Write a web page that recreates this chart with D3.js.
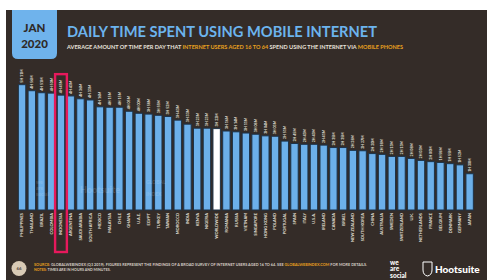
<!DOCTYPE html>
<html>
<head>
<meta charset="utf-8">
<script src="https://cdnjs.cloudflare.com/ajax/libs/d3/7.8.5/d3.min.js"></script>
<style>
  html, body { margin: 0; padding: 0; background: #fff; }
  svg { display: block; font-family: Lato, "Open Sans", sans-serif; }
</style>
</head>
<body>
<svg id="chart" width="487" height="280"></svg>
<script>
"use strict";

// countries, ordered as on the slide
const countries = [
  "PHILIPPINES", "THAILAND", "BRAZIL", "COLOMBIA", "INDONESIA", "ARGENTINA",
  "SAUDI ARABIA", "SOUTH AFRICA", "MEXICO", "MALAYSIA", "CHILE", "GHANA",
  "U.A.E.", "EGYPT", "TURKEY", "TAIWAN", "MOROCCO", "INDIA", "KENYA",
  "NIGERIA", "WORLDWIDE", "ROMANIA", "RUSSIA", "VIETNAM", "SINGAPORE",
  "HONG KONG", "POLAND", "PORTUGAL", "SPAIN", "ITALY", "U.S.A.", "IRELAND",
  "CANADA", "ISRAEL", "NEW ZEALAND", "SOUTH KOREA", "CHINA", "AUSTRALIA",
  "SWEDEN", "SWITZERLAND", "U.K.", "NETHERLANDS", "FRANCE", "BELGIUM",
  "DENMARK", "GERMANY", "JAPAN"
];

// daily time in minutes
const minutes = [
  311, 296, 291, 290, 285, 283,
  276, 273, 256, 255, 255, 245,
  240, 238, 235, 232, 223, 213, 203,
  203, 202, 196, 194, 191, 188,
  184, 183, 171, 165, 163, 163, 161,
  155, 155, 148, 147, 140, 138,
  133, 133, 128, 123, 120, 118,
  115, 112, 90
];

const highlight = "INDONESIA";
const world = "WORLDWIDE";

const W = 487, H = 280;
const svg = d3.select("#chart");

// dark slide background
svg.append("rect").attr("x", 6).attr("y", 10).attr("width", W - 6).attr("height", H - 10)
   .attr("fill", "#342c28");

// date tab
svg.append("path")
   .attr("d", "M12,10 H57 V53 Q57,59 51,59 H18 Q12,59 12,53 Z")
   .attr("fill", "#6fb3ec");
svg.append("text").attr("x", 34.5).attr("y", 32).attr("text-anchor", "middle")
   .attr("font-size", 11.5).attr("font-weight", 900).attr("fill", "#2f2a28").text("JAN");
svg.append("text").attr("x", 34.5).attr("y", 48).attr("text-anchor", "middle")
   .attr("font-size", 11.5).attr("font-weight", 900).attr("fill", "#2f2a28").text("2020");

// title and subtitle
svg.append("text").attr("x", 67).attr("y", 37)
   .attr("font-size", 15).attr("font-weight", 700).attr("fill", "#6cb4ee")
   .attr("textLength", 310).attr("lengthAdjust", "spacingAndGlyphs")
   .text("DAILY TIME SPENT USING MOBILE INTERNET");

const sub = svg.append("text").attr("x", 67).attr("y", 48.5)
   .attr("font-size", 4.6).attr("font-weight", 700).attr("fill", "#e8e2dc")
   .attr("textLength", 336).attr("lengthAdjust", "spacingAndGlyphs");
sub.append("tspan").text("AVERAGE AMOUNT OF TIME PER DAY THAT ");
sub.append("tspan").attr("fill", "#e9a11f").text("INTERNET USERS AGED 16 TO 64");
sub.append("tspan").text(" SPEND USING THE INTERNET VIA ");
sub.append("tspan").attr("fill", "#e9a11f").text("MOBILE PHONES");

// scales
const x = d3.scaleBand().domain(countries).range([17.2, 474.5]).paddingInner(0.24).paddingOuter(0.12);
const y = d3.scaleLinear().domain([0, 300]).range([210, 89.1]);

const fmt = m => Math.floor(m / 60) + "H " + String(m % 60).padStart(2, "0") + "M";

const data = countries.map((c, i) => ({c: c, v: minutes[i]}));

// bars
svg.append("g").selectAll("rect").data(data).join("rect")
   .attr("x", d => x(d.c))
   .attr("y", d => y(d.v))
   .attr("width", x.bandwidth())
   .attr("height", d => y(0) - y(d.v))
   .attr("fill", d => d.c === world ? "#ffffff" : "#6cb0ea")
   .attr("stroke", "#1d3349")
   .attr("stroke-width", 1);

// faint watermark across bars
const wm = svg.append("g").attr("fill", "#ffffff").attr("opacity", 0.13).attr("font-weight", 900);
wm.append("text").attr("x", 36).attr("y", 184).attr("font-size", 5).text("we");
wm.append("text").attr("x", 36).attr("y", 190).attr("font-size", 5).text("are");
wm.append("text").attr("x", 36).attr("y", 196).attr("font-size", 5).text("social");
wm.append("text").attr("x", 80).attr("y", 193).attr("font-size", 9).text("Hootsuite");
wm.append("text").attr("x", 146).attr("y", 184).attr("font-size", 5).text("GLOBAL");
wm.append("text").attr("x", 146).attr("y", 196).attr("font-size", 5).text("INDEX");

// value labels
svg.append("g").selectAll("text").data(data).join("text")
   .attr("transform", d => "translate(" + (x(d.c) + x.bandwidth() / 2 + 1.3) + "," + (y(d.v) - 2) + ") rotate(-90)")
   .attr("font-size", 3.6).attr("font-weight", 700).attr("fill", "#e6e0da")
   .text(d => fmt(d.v));

// country labels
svg.append("g").selectAll("text").data(data).join("text")
   .attr("transform", d => "translate(" + (x(d.c) + x.bandwidth() / 2 + 1.4) + ",213) rotate(-90)")
   .attr("text-anchor", "end")
   .attr("font-size", 4).attr("font-weight", 700).attr("fill", "#e6e0da")
   .text(d => d.c);

// highlight box
const hv = minutes[countries.indexOf(highlight)];
svg.append("rect")
   .attr("x", x(highlight) - 2.2).attr("y", y(hv) - 21)
   .attr("width", x.bandwidth() + 4.4)
   .attr("height", 252 - (y(hv) - 21))
   .attr("fill", "none").attr("stroke", "#e6195c").attr("stroke-width", 2.4);

// footer
svg.append("circle").attr("cx", 19).attr("cy", 268.5).attr("r", 7.5).attr("fill", "#d8cab5");
svg.append("text").attr("x", 19).attr("y", 270).attr("text-anchor", "middle")
   .attr("font-size", 4.5).attr("font-weight", 700).attr("fill", "#5a4e44").text("66");

const src = svg.append("text").attr("x", 34).attr("y", 266)
   .attr("font-size", 3.6).attr("font-weight", 700).attr("fill", "#d6cec6")
   .attr("textLength", 333).attr("lengthAdjust", "spacingAndGlyphs");
src.append("tspan").attr("fill", "#e9a11f").text("SOURCE: ");
src.append("tspan").text("GLOBALWEBINDEX (Q3 2019). FIGURES REPRESENT THE FINDINGS OF A BROAD SURVEY OF INTERNET USERS AGED 16 TO 64. SEE ");
src.append("tspan").attr("fill", "#e9a11f").text("GLOBALWEBINDEX.COM");
src.append("tspan").text(" FOR MORE DETAILS.");

const note = svg.append("text").attr("x", 34).attr("y", 271)
   .attr("font-size", 3.6).attr("font-weight", 700).attr("fill", "#d6cec6");
note.append("tspan").attr("fill", "#e9a11f").text("NOTES: ");
note.append("tspan").text("TIMES ARE IN HOURS AND MINUTES.");

// logos
const logo = svg.append("g").attr("fill", "#ffffff").attr("font-weight", 900);
logo.append("text").attr("x", 390).attr("y", 265).attr("font-size", 6.5).text("we");
logo.append("text").attr("x", 390).attr("y", 271).attr("font-size", 6.5).text("are");
logo.append("text").attr("x", 390).attr("y", 277.5).attr("font-size", 6.5).text("social");

logo.append("path")
   .attr("d", "M423,262 H432 V270 Q432,275 427.5,276 Q423,275 423,270 Z")
   .attr("fill", "none").attr("stroke", "#ffffff").attr("stroke-width", 1);
logo.append("text").attr("x", 435).attr("y", 273).attr("font-size", 10).text("Hootsuite");
</script>
</body>
</html>
